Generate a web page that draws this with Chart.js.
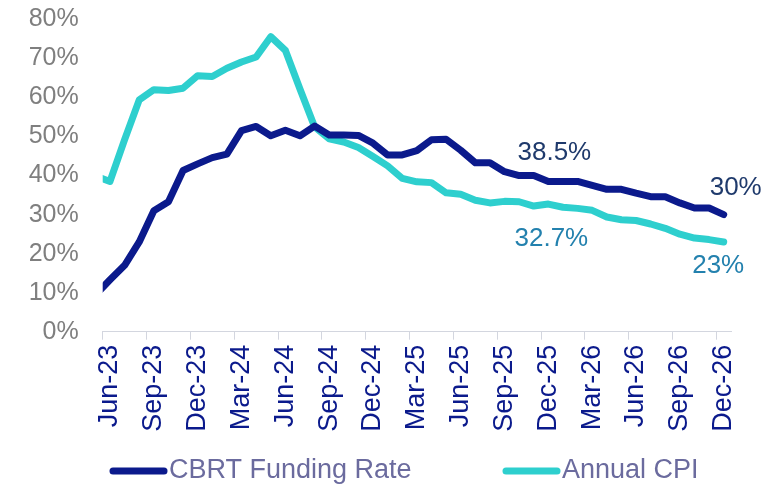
<!DOCTYPE html>
<html>
<head>
<meta charset="utf-8">
<script src="https://cdn.jsdelivr.net/npm/chart.js@4.4.1/dist/chart.umd.min.js"></script>
<style>
  html, body { margin: 0; padding: 0; background: #fff; }
  #wrap { width: 766px; height: 491px; }
</style>
</head>
<body>
<div id="wrap"><canvas id="chart" width="766" height="491"></canvas></div>
<script>
// monthly values, May-23 .. Dec-26 (May-23 sits left of the plot and gets clipped)
const months = [
  'May-23','Jun-23','Jul-23','Aug-23','Sep-23','Oct-23','Nov-23','Dec-23',
  'Jan-24','Feb-24','Mar-24','Apr-24','May-24','Jun-24','Jul-24','Aug-24','Sep-24','Oct-24','Nov-24','Dec-24',
  'Jan-25','Feb-25','Mar-25','Apr-25','May-25','Jun-25','Jul-25','Aug-25','Sep-25','Oct-25','Nov-25','Dec-25',
  'Jan-26','Feb-26','Mar-26','Apr-26','May-26','Jun-26','Jul-26','Aug-26','Sep-26','Oct-26','Nov-26','Dec-26'
];
const cbrtRate = [
  9.4, 13.3, 17, 23, 31, 33.3, 41.3, 43,
  44.6, 45.5, 51.5, 52.6, 50.2, 51.6, 50.2, 52.7, 50.4, 50.4, 50.3, 48.3,
  45.3, 45.3, 46.4, 49.2, 49.3, 46.5, 43.3, 43.3, 41, 40, 40, 38.5,
  38.5, 38.5, 37.5, 36.5, 36.5, 35.5, 34.6, 34.6, 33, 31.7, 31.7, 30
];
const annualCpi = [
  39.9, 38.5, 49.2, 59.4, 62.0, 61.8, 62.4, 65.6,
  65.4, 67.5, 69.1, 70.4, 75.6, 72.1, 62.2, 52.5, 49.4, 48.6, 47.2, 44.9,
  42.5, 39.3, 38.4, 38.2, 35.6, 35.2, 33.7, 33.0, 33.4, 33.3, 32.2, 32.7,
  31.9, 31.6, 31.1, 29.4, 28.7, 28.5, 27.6, 26.5, 25.0, 24.0, 23.6, 23.0
];
const seriesNames = ['CBRT Funding Rate', 'Annual CPI'];
const yTicks = [0, 10, 20, 30, 40, 50, 60, 70, 80];
// every third month from Jun-23 gets a label
const tickLabels = months.filter((m, i) => i >= 1 && (i - 1) % 3 === 0);

const NAVY = '#0b1a8c';
const TEAL = '#2ecfce';
const FONT = '"Liberation Sans", Arial, sans-serif';

// x position 0 = Jun-23
const toXY = arr => arr.map((v, i) => ({ x: i - 1, y: v }));
const lastIdx = months.length - 2;

const callouts = [
  { data: cbrtRate, month: 'Dec-25', dx: 6, dy: -28.5, color: '#1f3a6c' },
  { data: cbrtRate, month: 'Dec-26', dx: 12, dy: -27, color: '#1f3a6c' },
  { data: annualCpi, month: 'Dec-25', dx: 3, dy: 35, color: '#2381ae' },
  { data: annualCpi, month: 'Dec-26', dx: -5.5, dy: 24, color: '#2381ae' }
];

const calloutPlugin = {
  id: 'callouts',
  afterDatasetsDraw(chart) {
    const { ctx, scales } = chart;
    ctx.save();
    ctx.font = '26px ' + FONT;
    ctx.textAlign = 'center';
    ctx.textBaseline = 'middle';
    callouts.forEach(c => {
      const idx = months.indexOf(c.month);
      const v = c.data[idx];
      const px = scales.x.getPixelForValue(idx - 1);
      const py = scales.y.getPixelForValue(v);
      ctx.fillStyle = c.color;
      ctx.fillText(v + '%', px + c.dx, py + c.dy);
    });
    ctx.restore();
  }
};

const legendPlugin = {
  id: 'lineLegend',
  afterDraw(chart) {
    const ctx = chart.ctx;
    const items = [
      { x: 110, color: NAVY, text: seriesNames[0] },
      { x: 503, color: TEAL, text: seriesNames[1] }
    ];
    const y = 471;
    ctx.save();
    ctx.font = '27px ' + FONT;
    ctx.textBaseline = 'middle';
    ctx.textAlign = 'left';
    items.forEach(it => {
      ctx.strokeStyle = it.color;
      ctx.lineWidth = 7;
      ctx.lineCap = 'round';
      ctx.beginPath();
      ctx.moveTo(it.x + 3, y);
      ctx.lineTo(it.x + 54, y);
      ctx.stroke();
      ctx.fillStyle = '#6b6b9e';
      ctx.fillText(it.text, it.x + 59, y);
    });
    ctx.restore();
  }
};

new Chart(document.getElementById('chart'), {
  type: 'line',
  data: {
    datasets: [
      { label: seriesNames[0], data: toXY(cbrtRate), borderColor: NAVY, backgroundColor: NAVY },
      { label: seriesNames[1], data: toXY(annualCpi), borderColor: TEAL, backgroundColor: TEAL }
    ]
  },
  options: {
    responsive: false,
    animation: false,
    devicePixelRatio: 1,
    layout: { padding: { left: 0, right: 35, top: 19.5, bottom: 45 } },
    elements: {
      line: { borderWidth: 7, tension: 0, borderJoinStyle: 'round', borderCapStyle: 'round' },
      point: { radius: 0, hoverRadius: 0 }
    },
    datasets: { line: { clip: 0 } },
    plugins: { legend: { display: false }, tooltip: { enabled: false } },
    scales: {
      x: {
        type: 'linear',
        min: -0.5,
        max: lastIdx + 0.5,
        afterBuildTicks: s => { s.ticks = tickLabels.map((t, k) => ({ value: k * 3 - 0.5 })); },
        afterFit: s => { s.height = 491 - 45 - 331.7; },
        grid: { display: true, drawOnChartArea: false, drawTicks: true, tickLength: 8, color: '#d3d6df', lineWidth: 1 },
        border: { display: true, color: '#d3d6df', width: 1 },
        ticks: {
          autoSkip: false,
          maxRotation: 90,
          minRotation: 90,
          padding: 5,
          labelOffset: 7.3,
          color: NAVY,
          font: { family: FONT, size: 27 },
          callback: v => tickLabels[Math.round((v + 0.5) / 3)]
        }
      },
      y: {
        min: 0,
        max: 80,
        afterBuildTicks: s => { s.ticks = yTicks.map(v => ({ value: v })); },
        afterFit: s => { s.width = 102.7; s.paddingTop = 0; s.paddingBottom = 0; },
        grid: { display: false },
        border: { display: false },
        ticks: {
          padding: 16,
          color: '#7f7f7f',
          font: { family: FONT, size: 25 },
          callback: v => v + '%'
        }
      }
    }
  },
  plugins: [calloutPlugin, legendPlugin]
});
</script>
</body>
</html>
